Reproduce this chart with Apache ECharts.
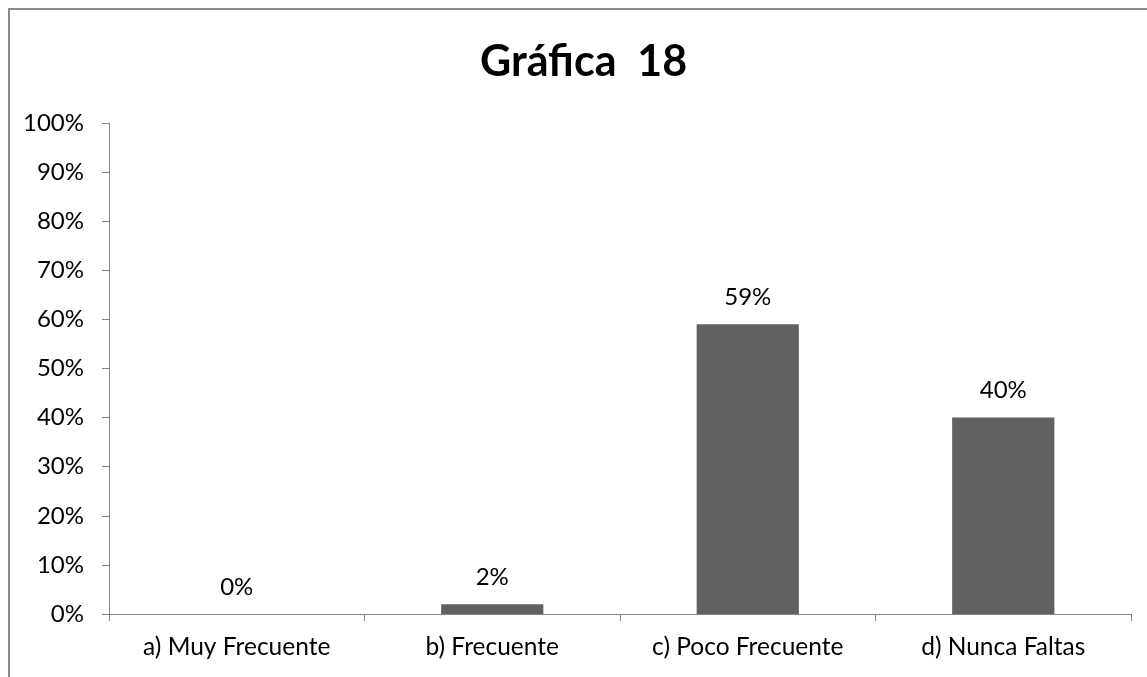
<!DOCTYPE html>
<html>
<head>
<meta charset="utf-8">
<script src="https://cdn.jsdelivr.net/npm/echarts@6/dist/echarts.min.js"></script>
<style>
  html, body { margin: 0; padding: 0; background: #fff; }
  #frame { position: absolute; left: 8px; top: 8px; width: 1160px; height: 700px; border: 2px solid #8c8c8c; box-sizing: border-box; }
  #chart { position: absolute; left: 0; top: 0; width: 1147px; height: 677px; }
</style>
</head>
<body>
<div id="frame"></div>
<div id="chart"></div>
<script>
var categories = ['a) Muy Frecuente', 'b) Frecuente', 'c) Poco Frecuente', 'd) Nunca Faltas'];
var values = [0, 2, 59, 40];
var titleText = 'Gráfica  18';

var font = 'Lato';

var myChart = echarts.init(document.getElementById('chart'));

var option = {
    title: {
        text: titleText,
        left: 480,
        top: 41,
        padding: 0,
        textStyle: { fontFamily: font, fontWeight: 'bold', fontSize: 43, color: '#000' }
    },
    grid: { left: 109, right: 16, top: 123, bottom: 63 },
    xAxis: {
        type: 'category',
        data: categories,
        axisLine: { lineStyle: { color: '#868686', width: 1 } },
        axisTick: { show: true, length: 7, lineStyle: { color: '#868686' } },
        axisLabel: { fontFamily: font, fontSize: 24.5, color: '#000', margin: 21 }
    },
    yAxis: {
        type: 'value',
        min: 0,
        max: 100,
        interval: 10,
        axisLine: { show: true, lineStyle: { color: '#868686', width: 1 } },
        axisTick: { show: true, length: 7, lineStyle: { color: '#868686' } },
        splitLine: { show: false },
        axisLabel: { fontFamily: font, fontSize: 24, color: '#000', margin: 25, formatter: '{value}%' }
    },
    series: [{
        type: 'bar',
        data: values,
        barWidth: '40%',
        itemStyle: { color: '#616161' },
        label: {
            show: true,
            position: 'top',
            distance: 15,
            formatter: '{c}%',
            fontFamily: font,
            fontSize: 24,
            color: '#000'
        }
    }]
};

myChart.setOption(option);
</script>
</body>
</html>
